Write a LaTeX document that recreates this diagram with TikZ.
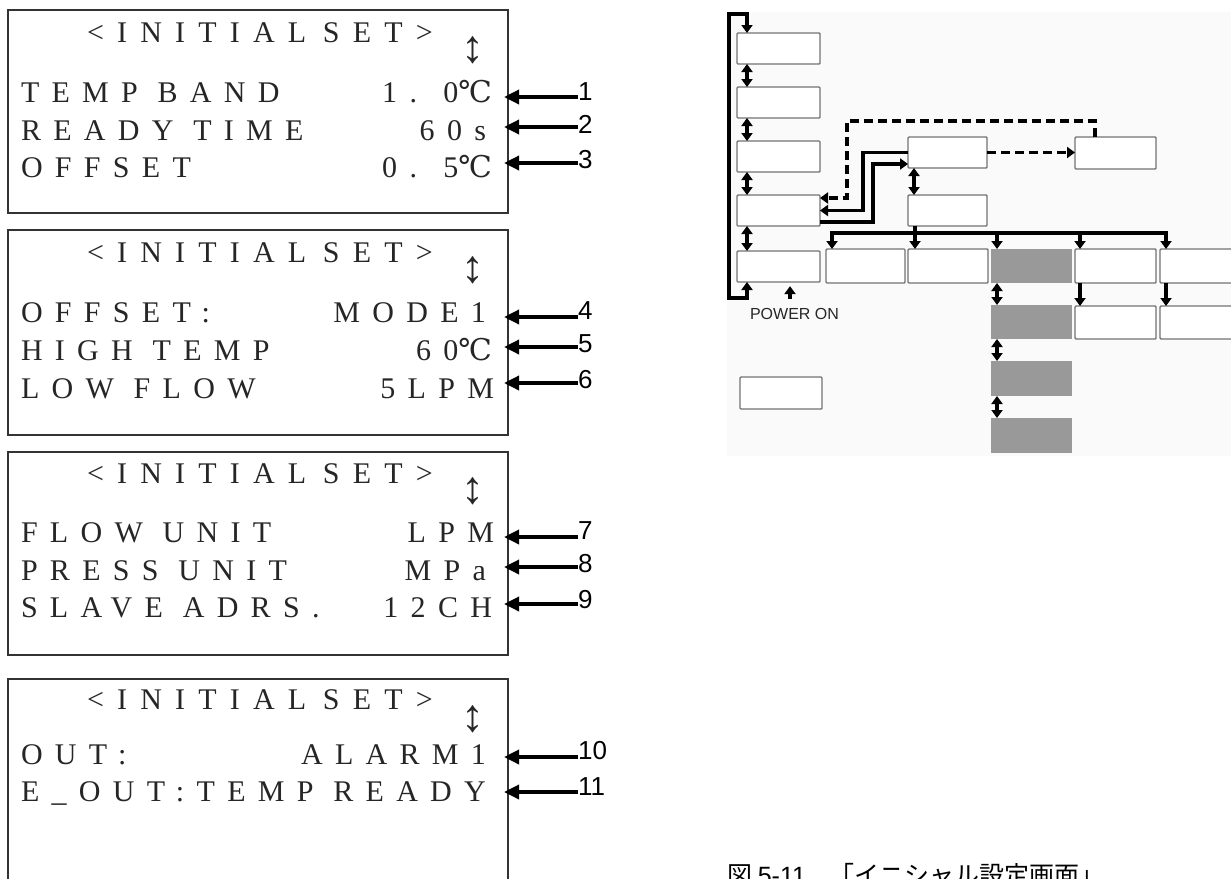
\documentclass[tikz,border=0pt]{standalone}
\usepackage{fontspec}
\setmainfont{Liberation Serif}
\newfontfamily\lcdfont[LetterSpace=41]{Liberation Serif}
\newfontfamily\ttlfont[LetterSpace=44]{Liberation Serif}
\newfontfamily\arialfont{Liberation Sans}
\newfontfamily\cjkfont{Noto Sans CJK JP}
\newfontfamily\symfont{DejaVu Serif}
\usetikzlibrary{arrows.meta,calc}
\newcommand\dC{{\symfont ℃}}
\begin{document}
\begin{tikzpicture}[x=1pt,y=-1pt,
  panel/.style={draw=black!80,line width=1.4pt,anchor=north west,inner sep=0pt,outer sep=0pt,minimum width=500,minimum height=203},
  lcd/.style={font=\lcdfont\fontsize{30}{32}\selectfont,text=black!85,inner sep=0pt,outer sep=0pt},
  lcdl/.style={lcd,anchor=base west},
  lcdr/.style={lcd,anchor=base east},
  ttl/.style={font=\ttlfont\fontsize{30}{32}\selectfont,text=black!85,inner sep=0pt,outer sep=0pt,anchor=base west},
  updown/.style={font=\fontsize{46}{48}\selectfont,text=black!85,inner sep=0pt},
  num/.style={font=\arialfont\fontsize{26}{28}\selectfont,inner sep=0pt,anchor=west},
  callout/.style={line width=3.4pt,-{Triangle[length=15pt,width=14pt]}},
  wbox/.style={draw=black!55,line width=1.4pt,fill=white,rounded corners=1pt,anchor=north west,inner sep=0pt,outer sep=0pt},
  gbox/.style={fill=black!40,anchor=north west,inner sep=0pt,outer sep=0pt},
  link/.style={line width=3.4pt,-{Triangle[length=8pt,width=11pt]}},
  both/.style={line width=3.4pt,{Triangle[length=8pt,width=11pt]}-{Triangle[length=8pt,width=11pt]}},
  dlink/.style={line width=3.4pt,dash pattern=on 9pt off 5pt,-{Triangle[length=8pt,width=11pt]}},
  pwr/.style={font=\arialfont\fontsize{16}{18}\selectfont,text=black!85,inner sep=0pt},
]
\useasboundingbox (0,0) rectangle (1231,878);
\clip (0,0) rectangle (1231,878);
\fill[white] (0,0) rectangle (1231,878);

% ---------------- panel 1
\node[panel] (p1) at (8,10) {};
\node[ttl] (t1) at (87,42) {<INITIAL\hspace{-4pt} SET>};
\node[updown] (u1) at (473,50) {↕};
\node[lcdl] (l1a) at (21,102) {TEMP BAND};
\node[lcdr] (v1a) at (492,102) {1. 0\dC};
\node[lcdl] (l1b) at (21,140) {READY TIME};
\node[lcdr] (v1b) at (486,140) {60s};
\node[lcdl] (l1c) at (21,177) {OFFSET};
\node[lcdr] (v1c) at (492,177) {0. 5\dC};

% ---------------- panel 2
\node[panel,minimum height=205] (p2) at (8,230) {};
\node[ttl] (t2) at (87,262) {<INITIAL\hspace{-4pt} SET>};
\node[updown] (u2) at (473,270) {↕};
\node[lcdl] (l2a) at (21,322) {OFFSET:};
\node[lcdr] (v2a) at (486,322) {MODE1};
\node[lcdl] (l2b) at (21,360) {HIGH TEMP};
\node[lcdr] (v2b) at (492,360) {60\dC};
\node[lcdl] (l2c) at (21,398) {LOW FLOW};
\node[lcdr] (v2c) at (494,398) {5LPM};

% ---------------- panel 3
\node[panel] (p3) at (8,452) {};
\node[ttl] (t3) at (87,483) {<INITIAL\hspace{-4pt} SET>};
\node[updown] (u3) at (473,491) {↕};
\node[lcdl] (l3a) at (21,542) {FLOW UNIT};
\node[lcdr] (v3a) at (494,542) {LPM};
\node[lcdl] (l3b) at (21,580) {PRESS UNIT};
\node[lcdr] (v3b) at (486,580) {MPa};
\node[lcdl] (l3c) at (21,617) {SLAVE ADRS.};
\node[lcdr] (v3c) at (492,617) {12CH};

% ---------------- panel 4 (cut by the page)
\node[panel,minimum height=230] (p4) at (8,679) {};
\node[ttl] (t4) at (87,709) {<INITIAL\hspace{-4pt} SET>};
\node[updown] (u4) at (473,719) {↕};
\node[lcdl] (l4a) at (21,764) {OUT:};
\node[lcdr] (v4a) at (486,764) {ALARM1};
\node[lcdl] (l4b) at (21,801) {E\_OUT:TEMP READY};

% ---------------- callouts
\foreach \k/\ay/\ly in {1/97/91.5,2/127/124,3/163/160,4/317/311,5/347/344,6/383/380,
                        7/537/531,8/567/564,9/604/600,10/757/751,11/792/787}{
  \coordinate (c\k) at (504,\ay);
  \node[num] (n\k) at (578,\ly) {\k};
  \draw[callout] (n\k.west |- c\k) -- (c\k);
}

% ---------------- state diagram
\fill[black!2] (727,12) rectangle (1231,456);
\node[wbox,minimum width=83,minimum height=31] (A1) at (737,33) {};
\node[wbox,minimum width=83,minimum height=31] (A2) at (737,87) {};
\node[wbox,minimum width=83,minimum height=31] (A3) at (737,141) {};
\node[wbox,minimum width=83,minimum height=31] (A4) at (737,195) {};
\node[wbox,minimum width=83,minimum height=31] (A5) at (737,251) {};
\node[wbox,minimum width=79,minimum height=34] (B1) at (826,249) {};
\node[wbox,minimum width=80,minimum height=34] (B2) at (908,249) {};
\node[gbox,minimum width=81,minimum height=34] (B3) at (991,249) {};
\node[wbox,minimum width=81,minimum height=34] (B4) at (1075,249) {};
\node[wbox,minimum width=81,minimum height=34] (B5) at (1160,249) {};
\node[gbox,minimum width=81,minimum height=34] (C1) at (991,305) {};
\node[wbox,minimum width=81,minimum height=33] (D4) at (1075,306) {};
\node[wbox,minimum width=81,minimum height=33] (D5) at (1160,306) {};
\node[gbox,minimum width=81,minimum height=35] (C2) at (991,361) {};
\node[gbox,minimum width=81,minimum height=35] (C3) at (991,418) {};
\node[wbox,minimum width=82,minimum height=32] (L) at (740,377) {};
\node[wbox,minimum width=79,minimum height=31] (M1) at (908,137) {};
\node[wbox,minimum width=79,minimum height=31] (M2) at (908,195) {};
\node[wbox,minimum width=81,minimum height=32] (R) at (1075,137) {};

% loop on the left
\coordinate (loopbl) at (729,298);
\coordinate (looptl) at (729,14);
\draw[both] ($(A5.south west)+(10,0)$) |- (loopbl) -- (looptl) -| ($(A1.north west)+(10,0)$);
\foreach \a/\b in {A1/A2,A2/A3,A3/A4,A4/A5}
  \draw[both] ($(\a.south west)+(10,0)$) -- ($(\b.north west)+(10,0)$);

% power on
\node[pwr] (pw) at (794.5,314) {POWER ON};
\draw[link] ($(pw.north)+(-4.5,-9)$) -- ++(0,-13);

% links between A4 and M1
\draw[link] (M1.west) -| ($(A4.east)+(43,0)$) -- (A4.east);
\draw[link] ($(A4.east)+(0,11.5)$) -| ($(M1.west)+(-35,11.5)$) -- ($(M1.west)+(0,11.5)$);
\coordinate (dtop) at (847,121);
\draw[dlink] ($(R.north west)+(20,0)$) |- (dtop) |- ($(A4.east)+(0,-12.5)$);
\draw[dlink] (M1.east) -- (R.west |- M1.east);
\draw[both] ($(M1.south west)+(6,0)$) -- ($(M2.north west)+(6,0)$);

% bus
\draw[link] ($(M2.south west)+(7,0)$) -- ($(B2.north west)+(7,0)$);
\draw[both] ($(B1.north west)+(6,0)$) -- ++(0,-16) -| ($(B5.north west)+(6,0)$);
\draw[link] ($(B3.north west)+(6,-16)$) -- ($(B3.north west)+(6,0)$);
\draw[link] ($(B4.north west)+(5,-16)$) -- ($(B4.north west)+(5,0)$);
\draw[link] ($(B4.south west)+(5,0)$) -- ($(D4.north west)+(5,0)$);
\draw[link] ($(B5.south west)+(6,0)$) -- ($(D5.north west)+(6,0)$);
\foreach \a/\b in {B3/C1,C1/C2,C2/C3}
  \draw[both] ($(\a.south west)+(6,0)$) -- ($(\b.north west)+(6,0)$);

% caption (cut by the page, as in the reference)
\node[anchor=base west,inner sep=0pt,font=\cjkfont\fontsize{25}{27}\selectfont] (cap) at (727,884)
  {図 {\arialfont 5-11}\hspace{24pt}「イニシャル設定画面」};
\end{tikzpicture}
\end{document}
